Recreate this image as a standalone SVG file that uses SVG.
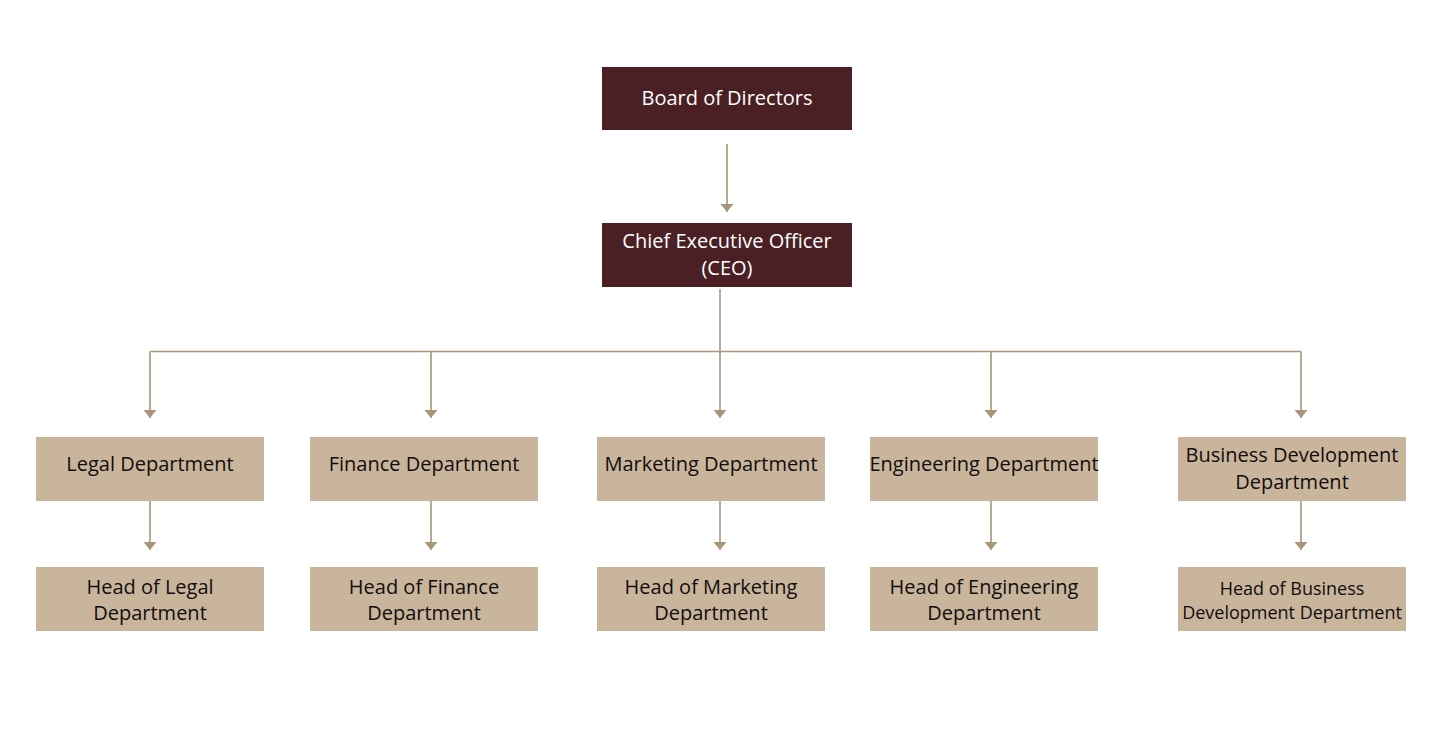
<svg xmlns="http://www.w3.org/2000/svg" width="1456" height="732" viewBox="0 0 1456 732">
<style>
.dark{fill:#4a2025}
.tan{fill:#c9b59c}
.tw{font-family:"Open Sans","Liberation Sans",sans-serif;font-size:20px;fill:#ffffff;text-anchor:middle}
.tb{font-family:"Open Sans","Liberation Sans",sans-serif;font-size:20px;fill:#120d0d;text-anchor:middle}
.sm{font-size:18px}
.con{fill:none;stroke:#a8957a;stroke-width:1.6}
</style>
<defs>
<marker id="arr" markerWidth="10" markerHeight="14" refX="8" refY="7" orient="auto" markerUnits="userSpaceOnUse">
<path d="M0,0.5 L8,7 L0,13.5 Z" fill="#a8957a"/>
</marker>
</defs>
<rect width="1456" height="732" fill="#ffffff"/>
<g id="connectors">
<path class="con" d="M727,144 V212" marker-end="url(#arr)"/>
<path class="con" d="M720,289 V351.5"/>
<path class="con" d="M150,351.5 H1301"/>
<path class="con" d="M150,351.5 V418" marker-end="url(#arr)"/>
<path class="con" d="M431,351.5 V418" marker-end="url(#arr)"/>
<path class="con" d="M720,351.5 V418" marker-end="url(#arr)"/>
<path class="con" d="M991,351.5 V418" marker-end="url(#arr)"/>
<path class="con" d="M1301,351.5 V418" marker-end="url(#arr)"/>
<path class="con" d="M150,501 V550" marker-end="url(#arr)"/>
<path class="con" d="M431,501 V550" marker-end="url(#arr)"/>
<path class="con" d="M720,501 V550" marker-end="url(#arr)"/>
<path class="con" d="M991,501 V550" marker-end="url(#arr)"/>
<path class="con" d="M1301,501 V550" marker-end="url(#arr)"/>
</g>
<g id="board"><rect class="dark" x="602" y="67" width="250" height="63"/><text class="tw" x="727" y="105">Board of Directors</text></g>
<g id="ceo"><rect class="dark" x="602" y="223" width="250" height="64"/><text class="tw" x="727" y="248">Chief Executive Officer</text><text class="tw" x="727" y="275">(CEO)</text></g>
<g id="legal"><rect class="tan" x="36" y="437" width="228" height="64"/><text class="tb" x="150" y="471">Legal Department</text></g>
<g id="finance"><rect class="tan" x="310" y="437" width="228" height="64"/><text class="tb" x="424" y="471">Finance Department</text></g>
<g id="marketing"><rect class="tan" x="597" y="437" width="228" height="64"/><text class="tb" x="711" y="471">Marketing Department</text></g>
<g id="engineering"><rect class="tan" x="870" y="437" width="228" height="64"/><text class="tb" x="984" y="471">Engineering Department</text></g>
<g id="bizdev"><rect class="tan" x="1178" y="437" width="228" height="64"/><text class="tb" x="1292" y="462">Business Development</text><text class="tb" x="1292" y="489">Department</text></g>
<g id="head-legal"><rect class="tan" x="36" y="567" width="228" height="64"/><text class="tb" x="150" y="594">Head of Legal</text><text class="tb" x="150" y="620">Department</text></g>
<g id="head-finance"><rect class="tan" x="310" y="567" width="228" height="64"/><text class="tb" x="424" y="594">Head of Finance</text><text class="tb" x="424" y="620">Department</text></g>
<g id="head-marketing"><rect class="tan" x="597" y="567" width="228" height="64"/><text class="tb" x="711" y="594">Head of Marketing</text><text class="tb" x="711" y="620">Department</text></g>
<g id="head-engineering"><rect class="tan" x="870" y="567" width="228" height="64"/><text class="tb" x="984" y="594">Head of Engineering</text><text class="tb" x="984" y="620">Department</text></g>
<g id="head-bizdev"><rect class="tan" x="1178" y="567" width="228" height="64"/><text class="tb sm" x="1292" y="595">Head of Business</text><text class="tb sm" x="1292" y="619">Development Department</text></g>
</svg>
